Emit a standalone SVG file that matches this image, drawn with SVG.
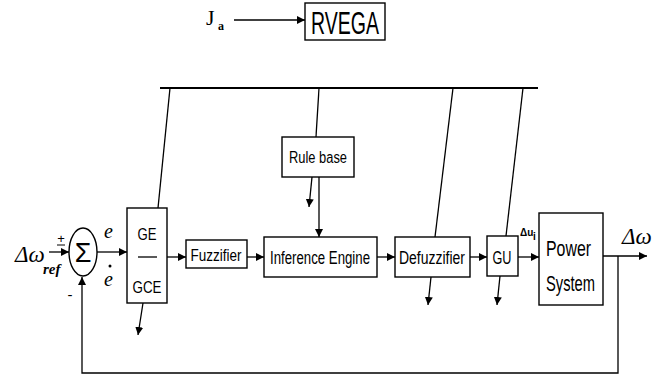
<svg xmlns="http://www.w3.org/2000/svg" width="657" height="377" viewBox="0 0 657 377">
<defs>
<marker id="ah" viewBox="0 0 10 10" refX="10" refY="5" markerWidth="8" markerHeight="8" markerUnits="userSpaceOnUse" orient="auto">
<path d="M0,0 L10,5 L0,10 z" fill="#000"/>
</marker>
</defs>
<style>
.box{fill:#fff;stroke:#000;stroke-width:1.4}
.ln{fill:none;stroke:#000;stroke-width:1.3}
.ar{fill:none;stroke:#000;stroke-width:1.3;marker-end:url(#ah)}
.t{font-family:"Liberation Sans",Arial,sans-serif;fill:#000;text-anchor:middle}
.m{font-family:"Liberation Serif","Times New Roman",serif;font-style:italic;fill:#000}
</style>
<rect width="657" height="377" fill="#fff"/>
<g id="connectors">
<path class="ar" d="M234,20 L305,20"/>
<path class="ln" d="M160,88 L538,88" style="stroke-width:2"/>
<path class="ln" d="M170,88 L158,208"/>
<path class="ln" d="M319,88 L316,137"/>
<path class="ln" d="M453,88 L435,237"/>
<path class="ln" d="M523,88 L506,236"/>
<path class="ar" d="M312,177 L309,207"/>
<path class="ar" d="M319,177 L319,237"/>
<path class="ar" d="M49,252 L69,252"/>
<path class="ar" d="M97,252 L127,252"/>
<path class="ar" d="M167,257 L186,257"/>
<path class="ar" d="M247,257 L264,257"/>
<path class="ar" d="M377,257 L395,257"/>
<path class="ar" d="M470,257 L487,257"/>
<path class="ar" d="M518,257 L539,257"/>
<path class="ar" d="M603,256 L647,256"/>
<path class="ar" d="M143,303 L138,335"/>
<path class="ar" d="M431,277 L428,305"/>
<path class="ar" d="M500,276 L497,305"/>
<path class="ar" d="M618,256 L618,373 L82,373 L82,277"/>
</g>
<g id="input">
<text class="m" x="15" y="262" font-size="23">Δω</text>
<text class="m" x="43" y="274" font-size="15" font-weight="bold">ref</text>
<text class="t" x="61" y="243" font-size="13">+</text>
<path class="ln" d="M57,245 L65,245" style="stroke-width:1"/>
<text class="t" x="70" y="300" font-size="15">-</text>
</g>
<g id="sum">
<ellipse cx="83" cy="252" rx="14" ry="24" class="box"/>
<text class="t" x="83" y="262" font-size="27" font-family="Liberation Serif">Σ</text>
<text class="m" x="104" y="238" font-size="20">e</text>
<text class="m" x="104" y="286" font-size="20">e</text>
<circle cx="110" cy="266" r="1.5" fill="#000"/>
</g>
<g id="ja">
<text x="206" y="25" font-family="Liberation Serif,serif" font-size="22" fill="#000">J</text>
<text x="218" y="30" font-family="Liberation Serif,serif" font-size="12" font-weight="bold" fill="#000">a</text>
</g>
<g id="rvega">
<rect class="box" x="305" y="3" width="80" height="37"/>
<text class="t" x="345" y="34" font-size="32" textLength="68" lengthAdjust="spacingAndGlyphs">RVEGA</text>
</g>
<g id="rulebase">
<rect class="box" x="282" y="137" width="72" height="40"/>
<text class="t" x="318" y="163" font-size="16" textLength="58" lengthAdjust="spacingAndGlyphs">Rule base</text>
</g>
<g id="gegce">
<rect class="box" x="127" y="208" width="40" height="95"/>
<text class="t" x="147" y="240" font-size="17" textLength="19" lengthAdjust="spacingAndGlyphs">GE</text>
<path class="ln" d="M138,257 L157,257"/>
<text class="t" x="147" y="293" font-size="17" textLength="29" lengthAdjust="spacingAndGlyphs">GCE</text>
</g>
<g id="fuzzifier">
<rect class="box" x="186" y="240" width="61" height="28"/>
<text class="t" x="216" y="261" font-size="17" textLength="51" lengthAdjust="spacingAndGlyphs">Fuzzifier</text>
</g>
<g id="inference">
<rect class="box" x="264" y="237" width="113" height="40"/>
<text class="t" x="320" y="264" font-size="18" textLength="100" lengthAdjust="spacingAndGlyphs">Inference Engine</text>
</g>
<g id="defuzzifier">
<rect class="box" x="395" y="237" width="75" height="40"/>
<text class="t" x="432" y="264" font-size="18" textLength="66" lengthAdjust="spacingAndGlyphs">Defuzzifier</text>
</g>
<g id="gu">
<rect class="box" x="487" y="236" width="31" height="40"/>
<text class="t" x="502" y="264" font-size="18" textLength="19" lengthAdjust="spacingAndGlyphs">GU</text>
<text x="520" y="236" font-family="Liberation Sans,sans-serif" font-size="10" font-weight="bold" fill="#000">Δu</text>
<text x="533" y="240" font-family="Liberation Sans,sans-serif" font-size="10" font-weight="bold" fill="#000">i</text>
</g>
<g id="power">
<rect class="box" x="539" y="213" width="64" height="92"/>
<text x="546" y="256" font-family="Liberation Sans,sans-serif" font-size="22" fill="#000" textLength="45" lengthAdjust="spacingAndGlyphs">Power</text>
<text x="546" y="291" font-family="Liberation Sans,sans-serif" font-size="22" fill="#000" textLength="49" lengthAdjust="spacingAndGlyphs">System</text>
</g>
<g id="output">
<text class="m" x="622" y="244" font-size="23">Δω</text>
</g>
</svg>
